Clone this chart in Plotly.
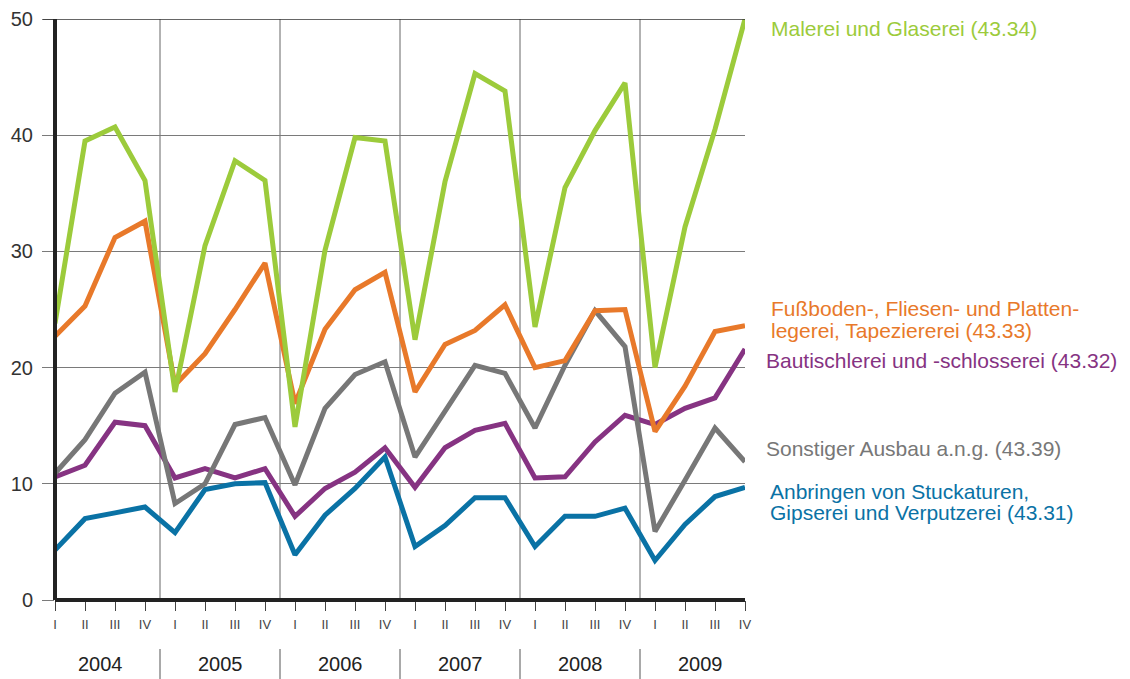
import plotly.graph_objects as go

quarters = ["I", "II", "III", "IV"] * 6
years = ["2004", "2005", "2006", "2007", "2008", "2009"]

malerei = [23.8, 39.5, 40.7, 36.1, 17.9, 30.5, 37.8, 36.1, 14.9, 30.1, 39.8, 39.5,
           22.4, 36.0, 45.3, 43.8, 23.5, 35.5, 40.4, 44.5, 20.0, 32.1, 40.5, 50.0]
fussboden = [22.7, 25.3, 31.2, 32.6, 18.5, 21.2, 25.0, 29.0, 16.9, 23.3, 26.7, 28.2,
             17.9, 22.0, 23.2, 25.4, 20.0, 20.6, 24.9, 25.0, 14.5, 18.4, 23.1, 23.6]
bautischlerei = [10.6, 11.6, 15.3, 15.0, 10.5, 11.3, 10.5, 11.3, 7.2, 9.6, 11.0, 13.1,
                 9.7, 13.1, 14.6, 15.2, 10.5, 10.6, 13.6, 15.9, 15.1, 16.5, 17.4, 21.6]
sonstiger = [10.9, 13.8, 17.8, 19.6, 8.3, 10.0, 15.1, 15.7, 9.9, 16.5, 19.4, 20.5,
             12.3, 16.2, 20.2, 19.5, 14.8, 20.2, 24.9, 21.8, 5.9, 10.3, 14.8, 11.9]
anbringen = [4.3, 7.0, 7.5, 8.0, 5.8, 9.5, 10.0, 10.1, 3.9, 7.3, 9.6, 12.3,
             4.6, 6.4, 8.8, 8.8, 4.6, 7.2, 7.2, 7.9, 3.4, 6.5, 8.9, 9.7]
y_ticks = [0, 10, 20, 30, 40, 50]

GREEN, ORANGE, PURPLE, GRAY, BLUE = "#9ccb3b", "#e8792a", "#863382", "#777777", "#0a72a5"

series = [
    ("Anbringen von Stuckaturen, Gipserei und Verputzerei (43.31)", anbringen, BLUE),
    ("Bautischlerei und -schlosserei (43.32)", bautischlerei, PURPLE),
    ("Sonstiger Ausbau a.n.g. (43.39)", sonstiger, GRAY),
    ("Fußboden-, Fliesen- und Plattenlegerei, Tapeziererei (43.33)", fussboden, ORANGE),
    ("Malerei und Glaserei (43.34)", malerei, GREEN),
]

x = list(range(len(quarters)))
fig = go.Figure()
for name, vals, col in series:
    fig.add_trace(go.Scatter(x=x, y=vals, mode="lines", name=name,
                             line=dict(color=col, width=5), cliponaxis=False))

FONT = "Liberation Sans, Arial, sans-serif"

# page offset (browser body margin) compensation
OFF = 8
W, H = 1130 - OFF, 679 - OFF
PL, PT, PW, PH = 55, 19, 690, 581  # plot area in page pixels

shapes = []
for k in range(1, 6):
    xv = 4 * k - 0.5
    shapes.append(dict(type="line", xref="x", yref="y", x0=xv, x1=xv, y0=0, y1=50,
                       line=dict(color="#666666", width=1), layer="below"))
    shapes.append(dict(type="line", xref="x", yref="paper", x0=xv, x1=xv,
                       y0=(600 - 649) / PH, y1=(600 - 679) / PH,
                       line=dict(color="#555555", width=1)))
shapes.append(dict(type="line", xref="paper", yref="y", x0=-12 / PW, x1=1, y0=50, y1=50,
                   line=dict(color="#333333", width=1.3)))
shapes.append(dict(type="line", xref="paper", yref="paper", x0=0, x1=0, y0=0, y1=1,
                   line=dict(color="#222222", width=4)))
shapes.append(dict(type="line", xref="paper", yref="paper", x0=0, x1=1, y0=0, y1=0,
                   line=dict(color="#222222", width=4)))

annotations = []
for i, yr in enumerate(years):
    annotations.append(dict(x=4 * i + 1.5, y=(600 - 664) / PH, xref="x", yref="paper", text=yr,
                            showarrow=False, font=dict(size=20, color="#222222", family=FONT),
                            xanchor="center", yanchor="middle"))

labels = [
    ("Malerei und Glaserei (43.34)", 769, 29, GREEN),
    ("Fußboden-, Fliesen- und Platten-", 769, 308, ORANGE),
    ("legerei, Tapeziererei (43.33)", 769, 330, ORANGE),
    ("Bautischlerei und -schlosserei (43.32)", 764, 360, PURPLE),
    ("Sonstiger Ausbau a.n.g. (43.39)", 764, 448, GRAY),
    ("Anbringen von Stuckaturen,", 768, 491, BLUE),
    ("Gipserei und Verputzerei (43.31)", 768, 513, BLUE),
]
for txt, px, py, col in labels:
    annotations.append(dict(x=(px - PL) / PW, y=(PT + PH - py) / PH, xref="paper", yref="paper",
                            text=txt, showarrow=False, align="left", xanchor="left",
                            yanchor="middle", font=dict(size=21, color=col, family=FONT)))

fig.update_layout(
    width=W, height=H,
    margin=dict(l=PL - OFF, r=W - (PL - OFF) - PW, t=PT - OFF, b=H - (PT - OFF) - PH,
                pad=0, autoexpand=False),
    paper_bgcolor="white", plot_bgcolor="white",
    showlegend=False,
    font=dict(family=FONT),
    xaxis=dict(range=[0, 23], tickmode="array", tickvals=x, ticktext=quarters,
               showgrid=False, zeroline=False, showline=False, automargin=False,
               ticks="outside", ticklen=10, tickcolor="#444444", tickwidth=1,
               ticklabelstandoff=2, ticklabeloverflow="allow",
               tickfont=dict(size=13, color="#444444")),
    yaxis=dict(range=[0, 50], tickmode="array", tickvals=y_ticks,
               ticktext=[str(v) for v in y_ticks],
               showgrid=True, gridcolor="#7a7a7a", gridwidth=1, zeroline=False,
               showline=False, automargin=False, ticks="outside", ticklen=12,
               tickcolor="#7a7a7a", ticklabelstandoff=5, ticklabeloverflow="allow",
               tickfont=dict(size=20, color="#333333")),
    shapes=shapes,
    annotations=annotations,
)

fig.write_html("out.html")
